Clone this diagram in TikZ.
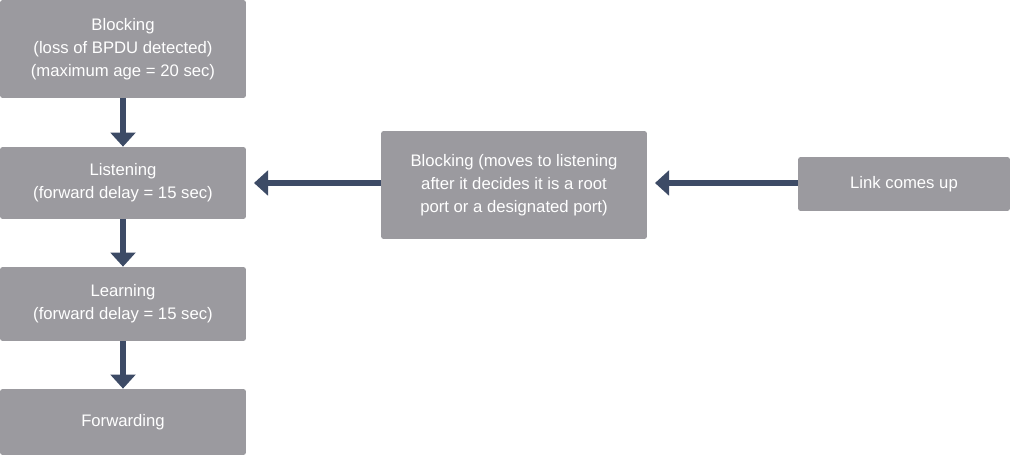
\documentclass[tikz,border=0pt]{standalone}
\usepackage{fontspec}
\setmainfont{Liberation Sans}
\usetikzlibrary{arrows.meta}
\definecolor{boxgray}{HTML}{9B9A9F}
\definecolor{arrowblue}{HTML}{3D4B66}
\begin{document}
\begin{tikzpicture}[x=0.02cm,y=-0.02cm,
	state/.style={fill=boxgray,text=white,rounded corners=1.5pt,align=center,inner sep=0pt,
		font=\fontsize{9.5}{13}\selectfont},
	flow/.style={arrowblue,line width=3.3pt,-{Triangle[length=8pt,width=14pt]}}]
	\useasboundingbox (0,0) rectangle (1010,455);
	\node[state,minimum width=4.92cm,minimum height=1.96cm] (block) at (123,49) {Blocking\\(loss of BPDU detected)\\(maximum age = 20 sec)};
	\node[state,minimum width=4.92cm,minimum height=1.44cm] (listen) at (123,183) {Listening\\(forward delay = 15 sec)};
	\node[state,minimum width=4.92cm,minimum height=1.48cm] (learn) at (123,304) {Learning\\(forward delay = 15 sec)};
	\node[state,minimum width=4.92cm,minimum height=1.32cm] (fwd) at (123,422) {Forwarding};
	\node[state,minimum width=5.32cm,minimum height=2.16cm] (wait) at (514,185) {Blocking (moves to listening\\after it decides it is a root\\port or a designated port)};
	\node[state,minimum width=4.24cm,minimum height=1.08cm] (link) at (904,184) {Link comes up};
	\coordinate (listenin) at (254,183);
	\coordinate (waitin) at (655,183);
	\draw[flow] (block) -- (listen);
	\draw[flow] (listen) -- (learn);
	\draw[flow] (learn) -- (fwd);
	\draw[flow] (wait.west |- listenin) -- (listenin);
	\draw[flow] (link.west |- waitin) -- (waitin);
\end{tikzpicture}
\end{document}
